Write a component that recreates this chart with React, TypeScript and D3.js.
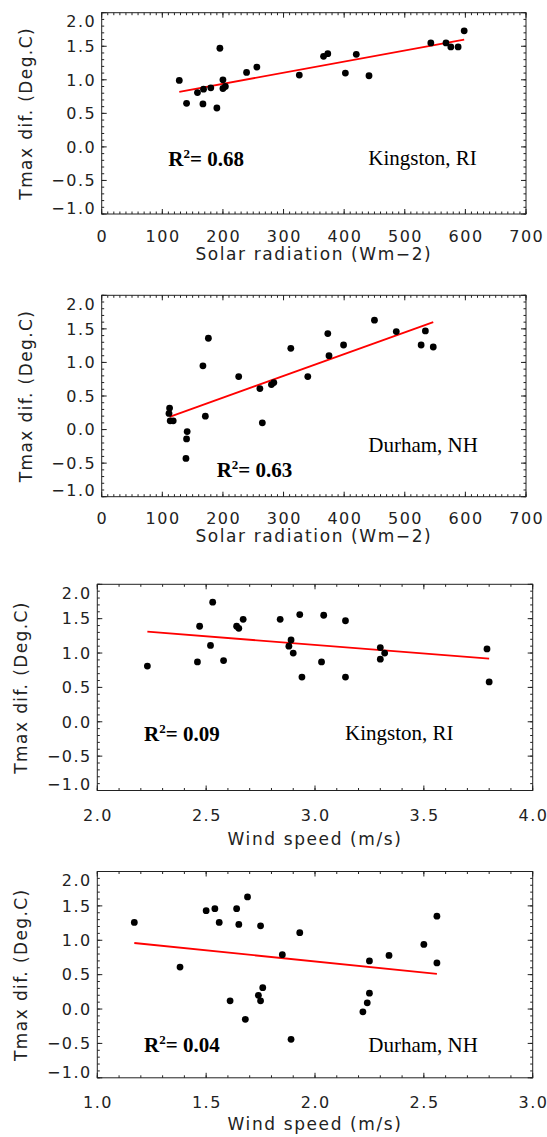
import React from 'react';
import * as d3 from 'd3';

// Kingston, RI vs solar radiation
const solarRIx = [128, 140, 158, 168, 167, 180, 190, 195, 200, 200, 204, 239, 256, 326, 366, 373, 402, 420, 441, 543, 568, 576, 588, 598];
const solarRIy = [0.99, 0.65, 0.81, 0.86, 0.64, 0.88, 0.58, 1.47, 1.0, 0.87, 0.9, 1.11, 1.19, 1.07, 1.35, 1.39, 1.1, 1.38, 1.06, 1.55, 1.55, 1.49, 1.49, 1.73];
const solarRIfitX = [128, 598];
const solarRIfitY = [0.82, 1.6];

// Durham, NH vs solar radiation
const solarNHx = [112, 111, 113, 118, 141, 140, 139, 167, 176, 171, 226, 261, 265, 280, 284, 312, 340, 373, 375, 399, 450, 486, 527, 534, 547];
const solarNHy = [0.32, 0.24, 0.13, 0.13, -0.03, -0.14, -0.43, 0.95, 1.36, 0.2, 0.79, 0.61, 0.1, 0.67, 0.7, 1.21, 0.79, 1.43, 1.1, 1.26, 1.63, 1.46, 1.26, 1.47, 1.23];
const solarNHfitX = [112, 547];
const solarNHfitY = [0.19, 1.6];

// Kingston, RI vs wind speed
const windRIx = [2.23, 2.46, 2.47, 2.53, 2.52, 2.58, 2.64, 2.65, 2.67, 2.84, 2.89, 2.88, 2.9, 2.93, 2.94, 3.04, 3.03, 3.14, 3.14, 3.3, 3.3, 3.32, 3.79, 3.8];
const windRIy = [0.81, 0.87, 1.39, 1.74, 1.11, 0.89, 1.39, 1.36, 1.49, 1.49, 1.19, 1.1, 1.0, 1.56, 0.65, 1.55, 0.87, 1.47, 0.65, 1.08, 0.91, 1.0, 1.06, 0.58];
const windRIfitX = [2.23, 3.8];
const windRIfitY = [1.31, 0.92];

// Durham, NH vs wind speed
const windNHx = [1.17, 1.38, 1.5, 1.54, 1.56, 1.61, 1.64, 1.65, 1.69, 1.68, 1.74, 1.75, 1.75, 1.76, 1.85, 1.89, 1.93, 2.22, 2.24, 2.25, 2.25, 2.34, 2.5, 2.56, 2.56];
const windNHy = [1.26, 0.61, 1.43, 1.46, 1.26, 0.12, 1.46, 1.23, 1.63, -0.15, 0.2, 1.21, 0.12, 0.31, 0.79, -0.44, 1.11, -0.04, 0.09, 0.23, 0.7, 0.78, 0.94, 0.67, 1.35];
const windNHfitX = [1.17, 2.56];
const windNHfitY = [0.96, 0.51];

const solarTicks = [0, 100, 200, 300, 400, 500, 600, 700];
const windRITicks = [2.0, 2.5, 3.0, 3.5, 4.0];
const windNHTicks = [1.0, 1.5, 2.0, 2.5, 3.0];
const yTicks = [-1.0, -0.5, 0.0, 0.5, 1.0, 1.5, 2.0];

const sans = '"DejaVu Sans", sans-serif';
const serif = '"Liberation Serif", "Times New Roman", serif';
const ink = '#222';

const fmtY = (v: number) => (v < 0 ? '\u2212' + Math.abs(v).toFixed(1) : v.toFixed(1));

function Panel(props: any) {
  const { xs, ys, fitX, fitY, ticks, minorStep, fmtX, box, xTitle, r2, site, r2At, siteAt, yTitleX, labelDy, titleDy } = props;
  const { x0, x1, y0, y1 } = box;
  const x = d3.scaleLinear().domain([ticks[0], ticks[ticks.length - 1]]).range([x0, x1]);
  const y = d3.scaleLinear().domain([-1, 2]).range([y1, y0]);

  const nx = Math.round((ticks[ticks.length - 1] - ticks[0]) / minorStep);
  const xMinor = d3.range(nx + 1).map((i) => ticks[0] + i * minorStep);
  const yMinor = d3.range(31).map((i) => -1 + i * 0.1);

  const major = 5;
  const minor = 2.5;
  const line = d3.line<number>().x((d, i) => x(fitX[i])).y((d) => y(d));

  return (
    <g>
      <g stroke={ink} strokeWidth={1} fill="none">
        <rect x={x0} y={y0} width={x1 - x0} height={y1 - y0} />
        {xMinor.map((v, i) => (
          <g key={'xm' + i}>
            <line x1={x(v)} x2={x(v)} y1={y1} y2={y1 - minor} />
            <line x1={x(v)} x2={x(v)} y1={y0} y2={y0 + minor} />
          </g>
        ))}
        {ticks.map((v: number, i: number) => (
          <g key={'xM' + i}>
            <line x1={x(v)} x2={x(v)} y1={y1} y2={y1 - major} />
            <line x1={x(v)} x2={x(v)} y1={y0} y2={y0 + major} />
          </g>
        ))}
        {yMinor.map((v, i) => (
          <g key={'ym' + i}>
            <line x1={x0} x2={x0 + minor} y1={y(v)} y2={y(v)} />
            <line x1={x1} x2={x1 - minor} y1={y(v)} y2={y(v)} />
          </g>
        ))}
        {yTicks.map((v, i) => (
          <g key={'yM' + i}>
            <line x1={x0} x2={x0 + major} y1={y(v)} y2={y(v)} />
            <line x1={x1} x2={x1 - major} y1={y(v)} y2={y(v)} />
          </g>
        ))}
      </g>

      <g fontFamily={sans} fontSize={16} fill={ink} letterSpacing={1.5}>
        {ticks.map((v: number, i: number) => (
          <text key={'xl' + i} x={x(v) + 0.75} y={y1 + labelDy} textAnchor="middle">
            {fmtX(v)}
          </text>
        ))}
        {yTicks.map((v, i) => (
          <text
            key={'yl' + i}
            x={x0 - 5.5}
            y={Math.min(Math.max(y(v), y0 + 8.5), y1 - 6)}
            dy="0.36em"
            textAnchor="end"
          >
            {fmtY(v)}
          </text>
        ))}
      </g>

      <text x={(x0 + x1) / 2} y={y1 + titleDy} textAnchor="middle" fontFamily={sans} fontSize={17} letterSpacing={1.6} fill={ink}>
        {xTitle}
      </text>
      <text
        transform={`translate(${yTitleX},${(y0 + y1) / 2}) rotate(-90)`}
        textAnchor="middle"
        dy="0.36em"
        fontFamily={sans}
        fontSize={17}
        letterSpacing={1.4}
        fill={ink}
      >
        Tmax dif.  (Deg.C)
      </text>

      <path d={line(fitY) || ''} stroke="#ff0000" strokeWidth={1.8} fill="none" />
      <g fill="#000">
        {xs.map((v: number, i: number) => (
          <circle key={'p' + i} cx={x(v)} cy={y(ys[i])} r={3.4} />
        ))}
      </g>

      <text x={x0 + r2At[0]} y={y0 + r2At[1]} fontFamily={serif} fontSize={21} fontWeight="bold" fill="#000">
        R
        <tspan fontSize={13} dy={-8}>2</tspan>
        <tspan dy={8}>= {r2}</tspan>
      </text>
      <text x={x0 + siteAt[0]} y={y0 + siteAt[1]} fontFamily={serif} fontSize={21} fill="#000">
        {site}
      </text>
    </g>
  );
}

export default function App() {
  const solarFmt = (v: number) => String(v);
  const windFmt = (v: number) => v.toFixed(1);
  return (
    <svg width={547} height={1137} style={{ position: 'absolute', left: 0, top: 0, background: '#fff' }}>
      <Panel
        xs={solarRIx}
        ys={solarRIy}
        fitX={solarRIfitX}
        fitY={solarRIfitY}
        ticks={solarTicks}
        minorStep={10}
        fmtX={solarFmt}
        box={{ x0: 101.7, x1: 526, y0: 12.7, y1: 214 }}
        xTitle="Solar radiation (Wm−2)"
        r2="0.68"
        site="Kingston, RI"
        r2At={[66.6, 153]}
        siteAt={[266.6, 152]}
        yTitleX={25.5}
        labelDy={27.7}
        titleDy={45.5}
      />
      <Panel
        xs={solarNHx}
        ys={solarNHy}
        fitX={solarNHfitX}
        fitY={solarNHfitY}
        ticks={solarTicks}
        minorStep={10}
        fmtX={solarFmt}
        box={{ x0: 101.7, x1: 526, y0: 295.3, y1: 496.7 }}
        xTitle="Solar radiation (Wm−2)"
        r2="0.63"
        site="Durham, NH"
        r2At={[115, 181.2]}
        siteAt={[266.6, 156.2]}
        yTitleX={25.5}
        labelDy={27.7}
        titleDy={45.5}
      />
      <Panel
        xs={windRIx}
        ys={windRIy}
        fitX={windRIfitX}
        fitY={windRIfitY}
        ticks={windRITicks}
        minorStep={0.1}
        fmtX={windFmt}
        box={{ x0: 97.3, x1: 532.7, y0: 584.3, y1: 790.5 }}
        xTitle="Wind speed (m/s)"
        r2="0.09"
        site="Kingston, RI"
        r2At={[46.7, 156.4]}
        siteAt={[247.7, 155.7]}
        yTitleX={21}
        labelDy={30.5}
        titleDy={54}
      />
      <Panel
        xs={windNHx}
        ys={windNHy}
        fitX={windNHfitX}
        fitY={windNHfitY}
        ticks={windNHTicks}
        minorStep={0.1}
        fmtX={windFmt}
        box={{ x0: 97.3, x1: 532.7, y0: 871.5, y1: 1077.8 }}
        xTitle="Wind speed (m/s)"
        r2="0.04"
        site="Durham, NH"
        r2At={[46.7, 180.8]}
        siteAt={[271, 180.2]}
        yTitleX={21}
        labelDy={30.5}
        titleDy={52}
      />
    </svg>
  );
}
